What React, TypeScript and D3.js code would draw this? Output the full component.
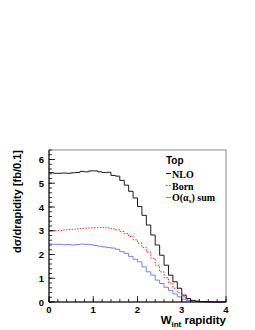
import React from 'react';
import * as d3 from 'd3';

// bin width 0.1, from 0 to 4
const binEdges = d3.range(0, 40).map(i => i / 10);

const nlo = [
    5.45, 5.42, 5.42, 5.43, 5.42, 5.44, 5.45, 5.50, 5.48, 5.52,
    5.52, 5.48, 5.45, 5.46, 5.33, 5.30, 5.12, 4.92, 4.66, 4.38,
    4.02, 3.65, 3.24, 2.82, 2.40, 1.97, 1.55, 1.13, 0.85, 0.58,
    0.29, 0.15, 0.07, 0.04, 0.02, 0.01, 0.01, 0.0, 0.0, 0.0,
];
const born = [
    3.00, 3.00, 3.01, 3.03, 3.05, 3.06, 3.08, 3.10, 3.11, 3.12,
    3.13, 3.14, 3.13, 3.12, 3.08, 3.04, 2.97, 2.88, 2.76, 2.62,
    2.48, 2.30, 2.10, 1.84, 1.55, 1.27, 1.02, 0.80, 0.58, 0.39,
    0.22, 0.11, 0.05, 0.03, 0.02, 0.01, 0.01, 0.0, 0.0, 0.0,
];
const alphaSum = [
    2.44, 2.43, 2.43, 2.41, 2.42, 2.40, 2.42, 2.44, 2.42, 2.41,
    2.38, 2.35, 2.32, 2.29, 2.27, 2.22, 2.12, 2.05, 1.92, 1.80,
    1.69, 1.48, 1.27, 1.13, 0.92, 0.78, 0.62, 0.48, 0.34, 0.22,
    0.12, 0.06, 0.03, 0.02, 0.01, 0.01, 0.0, 0.0, 0.0, 0.0,
];

const xTicks = [0, 1, 2, 3, 4];
const yTicks = [0, 1, 2, 3, 4, 5, 6];

const W = 255;
const H = 330;
const margin = { top: 150, right: 29, bottom: 28, left: 49 };

export default function App() {
    const x = d3.scaleLinear().domain([0, 4]).range([margin.left, W - margin.right]);
    const y = d3.scaleLinear().domain([0, 6.4]).range([H - margin.bottom, margin.top]);

    const stepLine = d3.line<[number, number]>()
        .x(d => x(d[0]))
        .y(d => y(d[1]))
        .curve(d3.curveStepAfter);

    const histPath = (vals: number[]) => {
        const pts: [number, number][] = binEdges.map((e, i) => [e, vals[i]]);
        pts.push([4, vals[vals.length - 1]]);
        return stepLine(pts) || '';
    };

    const yMinor = d3.range(0, 6.41, 0.2);
    const xMinor = d3.range(0, 4.01, 0.2);

    const x0 = x(0), x1 = x(4), y0 = y(0), y1 = y(6.4);
    const sans = "'Liberation Sans', Arial, sans-serif";
    const serif = "'Liberation Serif', 'Times New Roman', serif";

    return (
        <svg width={W} height={H} style={{ position: 'absolute', left: 0, top: 0, background: '#fff' }}>
            <rect x={0} y={0} width={W} height={H} fill="#fff" />
            {/* frame */}
            <rect x={x0} y={y1} width={x1 - x0} height={y0 - y1} fill="none" stroke="#8a8a8a" strokeWidth={1} />

            {/* histograms */}
            <path d={histPath(alphaSum)} fill="none" stroke="#7a7aff" strokeWidth={1} />
            <path d={histPath(born)} fill="none" stroke="#ff2020" strokeWidth={1} strokeDasharray="1.5,1.5" />
            <path d={histPath(nlo)} fill="none" stroke="#1a1a1a" strokeWidth={1} />

            {/* y axis */}
            <line x1={x0} x2={x0} y1={y0} y2={y1} stroke="#000" />
            {yMinor.map((v, i) => (
                <line key={'ym' + i} x1={x0} x2={x0 + 3} y1={y(v)} y2={y(v)} stroke="#000" strokeWidth={0.8} />
            ))}
            {yTicks.map(t => (
                <g key={'yt' + t}>
                    <line x1={x0} x2={x0 + 6} y1={y(t)} y2={y(t)} stroke="#000" strokeWidth={0.8} />
                    <text x={x0 - 5} y={y(t) + 3.5} textAnchor="end" fontFamily={sans} fontWeight="bold" fontSize={9.5}>{t}</text>
                </g>
            ))}

            {/* x axis */}
            <line x1={x0} x2={x1} y1={y0} y2={y0} stroke="#000" />
            {xMinor.map((v, i) => (
                <line key={'xm' + i} x1={x(v)} x2={x(v)} y1={y0} y2={y0 - 3} stroke="#000" strokeWidth={0.8} />
            ))}
            {xTicks.map(t => (
                <g key={'xt' + t}>
                    <line x1={x(t)} x2={x(t)} y1={y0} y2={y0 - 6} stroke="#000" strokeWidth={0.8} />
                    <text x={x(t)} y={y0 + 10.5} textAnchor="middle" fontFamily={sans} fontWeight="bold" fontSize={9.5}>{t}</text>
                </g>
            ))}

            {/* axis titles */}
            <text transform={`translate(20.5, ${y1}) rotate(-90)`} textAnchor="end"
                fontFamily={sans} fontWeight="bold" fontSize={11}>dσ/drapidity [fb/0.1]</text>
            <text x={x1} y={324} textAnchor="end" fontFamily={sans} fontWeight="bold" fontSize={11.5}>
                W<tspan fontSize={8} dy={3}>int</tspan><tspan dy={-3}> rapidity</tspan>
            </text>

            {/* legend */}
            <text x={166} y={164} fontFamily={sans} fontWeight="bold" fontSize={10}>Top</text>
            <line x1={166} x2={171} y1={173.5} y2={173.5} stroke="#1a1a1a" />
            <text x={172} y={177.5} fontFamily={serif} fontWeight="bold" fontSize={10}>NLO</text>
            <line x1={166} x2={171} y1={185.5} y2={185.5} stroke="#ff2020" strokeDasharray="1.5,1.5" />
            <text x={172} y={189.5} fontFamily={serif} fontWeight="bold" fontSize={10}>Born</text>
            <line x1={166} x2={171} y1={197.5} y2={197.5} stroke="#7a7aff" />
            <text x={172} y={201} fontFamily={serif} fontWeight="bold" fontSize={10}>
                O(α<tspan fontSize={7} dy={2}>s</tspan><tspan dy={-2}>) sum</tspan>
            </text>
        </svg>
    );
}
